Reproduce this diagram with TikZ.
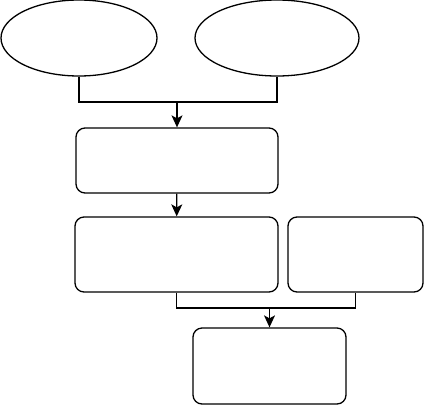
\documentclass[tikz,border=0pt]{standalone}
\usetikzlibrary{shapes.geometric,arrows.meta}
\tikzset{
  oval/.style={draw,ellipse,line width=1.3pt,minimum height=76pt,inner sep=0pt},
  box/.style={draw,rounded corners=9pt,line width=1.3pt,inner sep=0pt},
  link/.style={line width=1.3pt},
  flow/.style={line width=1.3pt,-{Stealth[length=12pt,width=11pt,inset=3pt]}}
}
\begin{document}
\begin{tikzpicture}[x=1pt,y=-1pt]
     \useasboundingbox (0,0) rectangle (425,405);
     \node[oval,minimum width=156pt] (src1) at (79,38) {};
     \node[oval,minimum width=164pt] (src2) at (277,38) {};
     \node[box,minimum width=202pt,minimum height=65pt] (step1) at (177,160.5) {};
     \node[box,minimum width=203pt,minimum height=75pt] (step2) at (176.5,254.5) {};
     \node[box,minimum width=135pt,minimum height=75pt] (side) at (355.5,254.5) {};
     \node[box,minimum width=153pt,minimum height=76pt] (last) at (269.5,366) {};
     
     \coordinate (join1) at (177,102);
     \coordinate (join2) at (269.5,308);
     
     \draw[link] (src1.south) |- (join1) -| (src2.south);
     \draw[flow] (join1) -- (step1);
     \draw[flow] (step1) -- (step2);
     \draw[link] (step2.south) |- (join2) -| (side.south);
     \draw[flow] (join2) -- (last);
\end{tikzpicture}
\end{document}
